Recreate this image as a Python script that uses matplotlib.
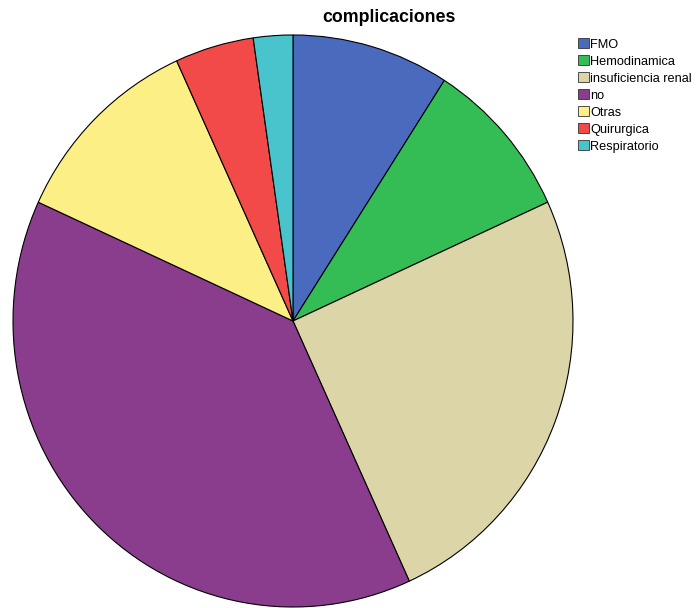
import matplotlib.pyplot as plt
from matplotlib.patches import Patch

plt.rcParams['font.family'] = ['Liberation Sans', 'DejaVu Sans']

# --- data (counts) ---
categories = ['FMO', 'Hemodinamica', 'insuficiencia renal', 'no',
              'Otras', 'Quirurgica', 'Respiratorio']
counts = [4, 4, 11, 17, 5, 2, 1]
colors = ['#4a6bbd', '#35bd55', '#dbd5a8', '#893d8c',
          '#fcef86', '#f24a48', '#4ac4cc']

W, H = 699, 608
fig = plt.figure(figsize=(W / 100, H / 100), dpi=100)

# pie centre ~ (293, 321) px, radii ~ 280 x 286 px (slightly stretched)
cx, cy, rx, ry = 293, 321, 280, 286
ax = fig.add_axes([(cx - rx) / W, (H - cy - ry) / H, 2 * rx / W, 2 * ry / H])
ax.pie(counts, colors=colors, startangle=90, counterclock=False,
       radius=1.0, wedgeprops=dict(edgecolor='black', linewidth=0.8))
ax.set_xlim(-1.0, 1.0)
ax.set_ylim(-1.0, 1.0)
ax.set_aspect('auto')
ax.axis('off')

fig.text(389 / W, 1 - 18 / H, 'complicaciones', ha='center', va='center',
         fontsize=12.8, fontweight='bold')

handles = [Patch(facecolor=c, edgecolor='#333333', linewidth=0.6) for c in colors]
fig.legend(handles, categories, loc='upper left',
           bbox_to_anchor=(577 / W, 1 - 37 / H), frameon=False,
           fontsize=9.2, handlelength=0.82, handleheight=0.82,
           handletextpad=0.1, labelspacing=0.36, borderaxespad=0,
           borderpad=0.1)

fig.savefig('out.png', dpi=100)
